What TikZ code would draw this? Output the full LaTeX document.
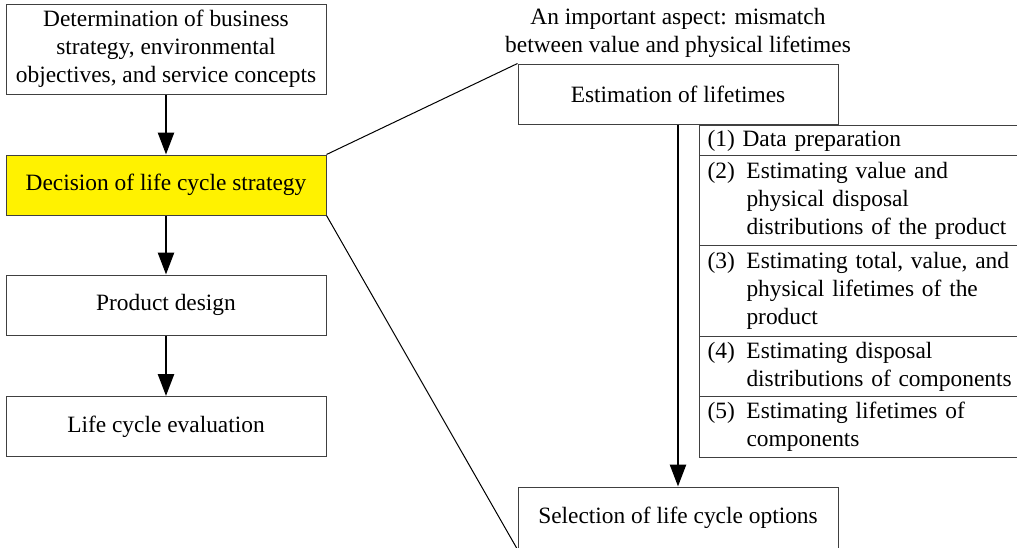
\documentclass[tikz,border=0pt]{standalone}
\usepackage{fontspec}
\setmainfont{Liberation Serif}
\usetikzlibrary{arrows.meta}
\newcommand{\stepitem}[2]{\makebox[19.5pt][l]{#1}\begin{tabular}[t]{@{}l@{}}#2\end{tabular}}
\tikzset{
    box/.style={draw=black!75, line width=0.5pt, minimum width=160pt, minimum height=30pt, inner sep=0pt, align=center},
    stage/.style={draw=black!75, line width=0.5pt, anchor=north west, inner xsep=4pt, inner ysep=0pt, text width=155pt, align=left},
    flow/.style={line width=1.3pt, -{Triangle[width=8pt,length=11pt]}},
    link/.style={line width=0.5pt}
}
\begin{document}
\begin{tikzpicture}[x=0.5pt, y=-0.5pt, font=\fontsize{11.7}{14}\selectfont]
    \useasboundingbox (0,0) rectangle (1017,547);
    % left column
    \node[box, minimum height=45pt] (goals) at (166,49) {Determination of business\\strategy, environmental\\objectives, and service concepts};
    \node[box, fill=yellow] (decision) at (166,185) {Decision of life cycle strategy};
    \node[box] (design) at (166,305) {Product design};
    \node[box] (evaluation) at (166,426.5) {Life cycle evaluation};
    \draw[flow] (goals) -- (decision);
    \draw[flow] (decision) -- (design);
    \draw[flow] (design) -- (evaluation);
    % right column
    \node[box] (estimation) at (678,94) {Estimation of lifetimes};
    \node[align=center] (aspect) at (678,32.5) {An important aspect: mismatch\\between value and physical lifetimes};
    \node[box, minimum height=31pt] (selection) at (678,518) {Selection of life cycle options};
    \draw[flow] (estimation) -- (selection);
    \draw[link] (decision.north east) -- (estimation.north west);
    \draw[link] (decision.south east) -- (selection.south west);
    % estimation steps
    \node[stage, minimum height=15pt] (s1) at (699,125) {(1) Data preparation};
    \node[stage, minimum height=45pt] (s2) at (699,155) {\stepitem{(2)}{Estimating value and\\physical disposal\\distributions of the product}};
    \node[stage, minimum height=45.5pt] (s3) at (699,245) {\stepitem{(3)}{Estimating total, value, and\\physical lifetimes of the\\product}};
    \node[stage, minimum height=30pt] (s4) at (699,336) {\stepitem{(4)}{Estimating disposal\\distributions of components}};
    \node[stage, minimum height=30.5pt] (s5) at (699,396) {\stepitem{(5)}{Estimating lifetimes of\\components}};
\end{tikzpicture}
\end{document}
